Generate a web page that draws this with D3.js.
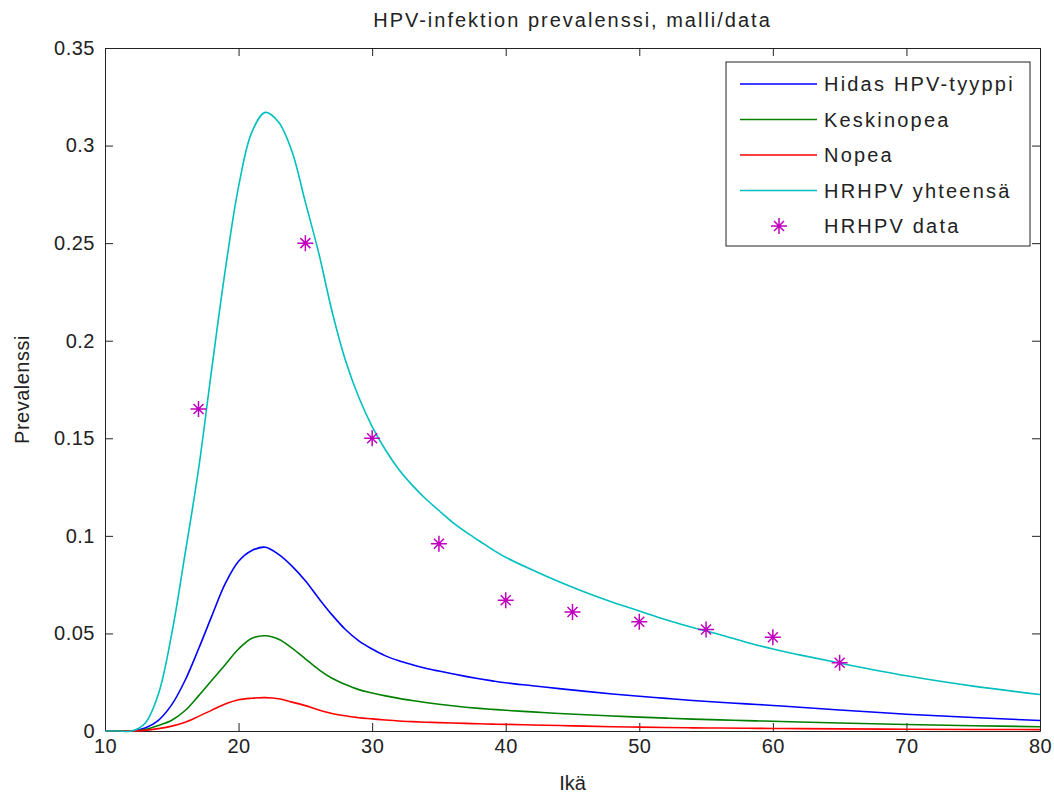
<!DOCTYPE html>
<html>
<head>
<meta charset="utf-8">
<script src="https://cdn.jsdelivr.net/npm/d3@7"></script>
<style>
  body { margin: 0; background: #fff; }
  svg { display: block; }
  text { font-family: "Liberation Sans", Arial, sans-serif; fill: #222; }
  .axis text { font-size: 20px; letter-spacing: 0.5px; }
  .axis path, .axis line { stroke: #222; }
</style>
</head>
<body>
<div class="chart_container"></div>
<script>
'use strict';

// ages of the model curves
const ages = [10, 11, 12, 13, 14, 15, 16, 17, 18, 19, 20, 21, 22, 23, 24, 25, 26, 27, 28, 29,
  30, 31, 32, 33, 34, 35, 36, 37, 38, 39, 40, 42, 44, 46, 48, 50, 52, 54, 56, 58,
  60, 62, 65, 70, 75, 80];

const slowType = [0, 0, 0, 0.0015, 0.0055, 0.0135, 0.026, 0.042, 0.059, 0.0755, 0.087, 0.0925, 0.0942, 0.0905, 0.0845, 0.077, 0.068, 0.0595, 0.052, 0.0462,
  0.042, 0.0385, 0.036, 0.034, 0.0322, 0.0307, 0.0293, 0.028, 0.0268, 0.0257, 0.0247, 0.0232, 0.0217, 0.0203, 0.019, 0.0178, 0.0167, 0.0156, 0.0147, 0.0139,
  0.0131, 0.0122, 0.0108, 0.0086, 0.0069, 0.0054];

const mediumType = [0, 0, 0, 0.0008, 0.0028, 0.0055, 0.0105, 0.018, 0.026, 0.034, 0.042, 0.0475, 0.0488, 0.047, 0.0425, 0.037, 0.0315, 0.027, 0.0238, 0.0212,
  0.0195, 0.018, 0.0167, 0.0156, 0.0146, 0.0137, 0.0129, 0.0122, 0.0116, 0.0111, 0.0106, 0.0098, 0.009, 0.0083, 0.0077, 0.0071, 0.0066, 0.0061, 0.0057, 0.0053,
  0.005, 0.0046, 0.0041, 0.0033, 0.0027, 0.0022];

const fastType = [0, 0, 0, 0.0003, 0.0012, 0.0025, 0.0045, 0.0075, 0.0107, 0.0138, 0.016, 0.0168, 0.0171, 0.0165, 0.0148, 0.013, 0.0108, 0.009, 0.0078, 0.0068,
  0.0062, 0.0056, 0.0051, 0.0048, 0.0045, 0.0043, 0.0041, 0.0039, 0.0037, 0.0035, 0.0034, 0.0031, 0.0028, 0.0025, 0.0022, 0.002, 0.0018, 0.0016, 0.0015, 0.0014,
  0.0013, 0.0012, 0.0011, 0.0009, 0.0008, 0.0007];

const totalHR = [0, 0, 0, 0.004, 0.019, 0.05, 0.091, 0.134, 0.186, 0.236, 0.279, 0.307, 0.317, 0.312, 0.297, 0.271, 0.245, 0.215, 0.19, 0.171,
  0.156, 0.144, 0.134, 0.126, 0.119, 0.113, 0.107, 0.102, 0.0975, 0.093, 0.089, 0.0825, 0.0765, 0.071, 0.066, 0.0615, 0.057, 0.053, 0.0495, 0.0455,
  0.042, 0.039, 0.0348, 0.0283, 0.023, 0.0187];

// measured data
const dataAges = [17, 25, 30, 35, 40, 45, 50, 55, 60, 65];
const dataPrev = [0.165, 0.25, 0.15, 0.096, 0.067, 0.061, 0.056, 0.052, 0.048, 0.035];

const xTicks = [10, 20, 30, 40, 50, 60, 70, 80];
const yTicks = [0, 0.05, 0.1, 0.15, 0.2, 0.25, 0.3, 0.35];
const yTickLabels = ['0', '0.05', '0.1', '0.15', '0.2', '0.25', '0.3', '0.35'];

const seriesNames = ['Hidas HPV-tyyppi', 'Keskinopea', 'Nopea', 'HRHPV yhteensä'];
const seriesColors = ['#0000ff', '#008000', '#ff0000', '#00bfbf'];
const dataName = 'HRHPV data';
const dataColor = '#bf00bf';

const width = 1054,
  height = 795;
const padLeft = 105, padRight = 1040, padTop = 48, padBottom = 731;

const series = [slowType, mediumType, fastType, totalHR];

const svg = d3.select('.chart_container')
  .append('svg')
  .attr('width', width)
  .attr('height', height);

const xScale = d3.scaleLinear().domain([10, 80]).range([padLeft, padRight]);
const yScale = d3.scaleLinear().domain([0, 0.35]).range([padBottom, padTop]);

// axes, ticks pointing inward on all four sides
const tick = 8;
svg.append('g')
  .attr('class', 'axis')
  .attr('transform', `translate(0, ${padBottom})`)
  .call(d3.axisBottom(xScale).tickValues(xTicks).tickSizeInner(-tick).tickSizeOuter(0).tickPadding(8).tickFormat(d3.format('d')));

svg.append('g')
  .attr('class', 'axis')
  .attr('transform', `translate(0, ${padTop})`)
  .call(d3.axisTop(xScale).tickValues(xTicks).tickSizeInner(-tick).tickSizeOuter(0).tickFormat(''));

svg.append('g')
  .attr('class', 'axis')
  .attr('transform', `translate(${padLeft}, 0)`)
  .call(d3.axisLeft(yScale).tickValues(yTicks).tickSizeInner(-tick).tickSizeOuter(0).tickPadding(10)
    .tickFormat((d, i) => yTickLabels[i]));

svg.append('g')
  .attr('class', 'axis')
  .attr('transform', `translate(${padRight}, 0)`)
  .call(d3.axisRight(yScale).tickValues(yTicks).tickSizeInner(-tick).tickSizeOuter(0).tickFormat(''));

// model curves
const line = d3.line()
  .x((d, i) => xScale(ages[i]))
  .y(d => yScale(Math.max(d, 0)))
  .curve(d3.curveCatmullRom.alpha(0.5));

svg.selectAll('path.curve')
  .data(series)
  .enter()
  .append('path')
  .attr('class', 'curve')
  .attr('d', line)
  .attr('fill', 'none')
  .attr('stroke', (d, i) => seriesColors[i])
  .attr('stroke-width', 1.6);

// asterisk marker like matlab '*'
const star = 'M0,-8V8M-8,0H8M-5,-5L5,5M-5,5L5,-5';

svg.selectAll('path.star')
  .data(dataAges)
  .enter()
  .append('path')
  .attr('class', 'star')
  .attr('d', star)
  .attr('transform', (d, i) => `translate(${xScale(d)}, ${yScale(dataPrev[i])})`)
  .attr('stroke', dataColor)
  .attr('stroke-width', 1.5)
  .attr('fill', 'none');

// title and axis labels
svg.append('text')
  .attr('x', (padLeft + padRight) / 2)
  .attr('y', 27)
  .attr('text-anchor', 'middle')
  .style('font-size', '20px')
  .style('letter-spacing', '2px')
  .text('HPV-infektion prevalenssi, malli/data');

svg.append('text')
  .attr('x', (padLeft + padRight) / 2)
  .attr('y', 790)
  .attr('text-anchor', 'middle')
  .style('font-size', '20px')
  .text('Ikä');

svg.append('text')
  .attr('transform', `translate(29, ${(padTop + padBottom) / 2}) rotate(-90)`)
  .attr('text-anchor', 'middle')
  .style('font-size', '20px')
  .style('letter-spacing', '0.5px')
  .text('Prevalenssi');

// legend
const legend = svg.append('g').attr('transform', 'translate(726, 62)');
legend.append('rect')
  .attr('width', 304)
  .attr('height', 184)
  .attr('fill', '#fff')
  .attr('stroke', '#222');

const rowY = i => 22 + i * 35.5;
const entries = seriesNames.map((n, i) => ({ name: n, color: seriesColors[i], marker: false }))
  .concat([{ name: dataName, color: dataColor, marker: true }]);

entries.forEach((e, i) => {
  if (e.marker) {
    legend.append('path')
      .attr('d', star)
      .attr('transform', `translate(53, ${rowY(i)})`)
      .attr('stroke', e.color)
      .attr('stroke-width', 1.5)
      .attr('fill', 'none');
  } else {
    legend.append('line')
      .attr('x1', 14).attr('x2', 91)
      .attr('y1', rowY(i)).attr('y2', rowY(i))
      .attr('stroke', e.color)
      .attr('stroke-width', 1.6);
  }
  legend.append('text')
    .attr('x', 98)
    .attr('y', rowY(i) + 7)
    .style('font-size', '20px')
    .style('letter-spacing', '2.2px')
    .text(e.name);
});
</script>
</body>
</html>
